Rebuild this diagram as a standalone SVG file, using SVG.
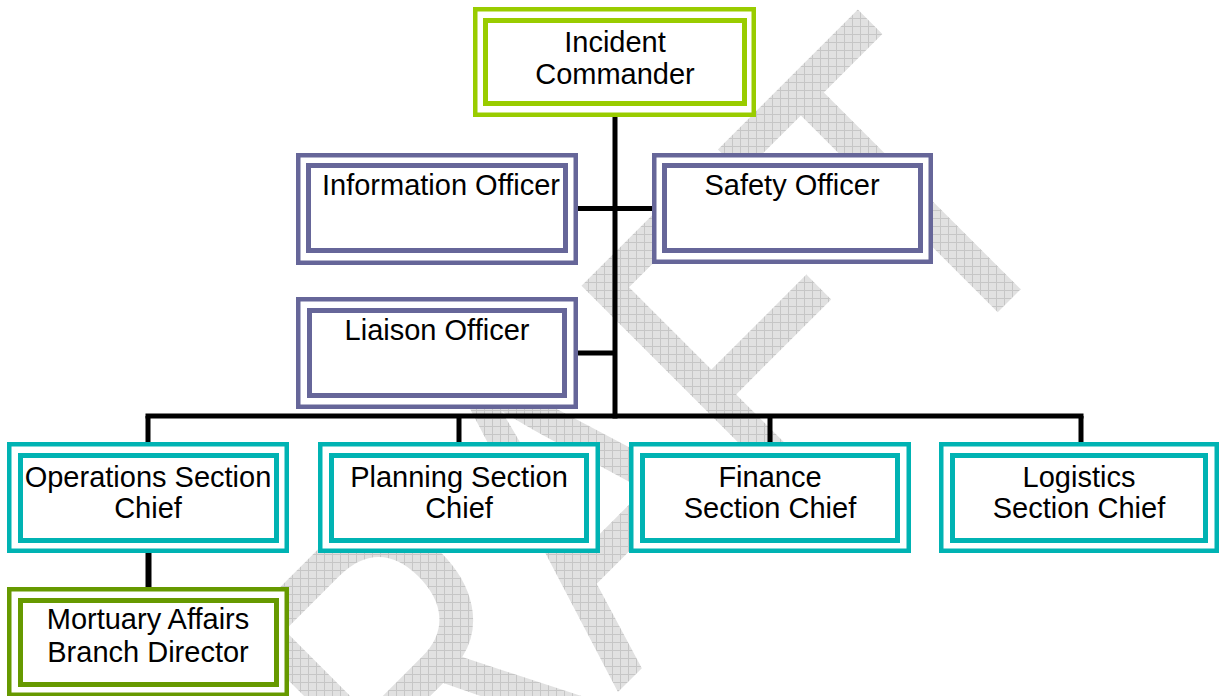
<svg xmlns="http://www.w3.org/2000/svg" width="1220" height="696" viewBox="0 0 1220 696">
<defs>
<style>
.wm{font-family:"Liberation Sans",Arial,sans-serif;font-size:350px;fill:url(#hatch)}
.lbl{font-family:"Liberation Sans",Arial,sans-serif;font-size:29px;fill:#000;text-anchor:middle}
.o{fill:#fff;stroke-width:4.5}
.i{fill:none;stroke-width:5}
.grn{stroke:#99cc00}
.pur{stroke:#666699}
.teal{stroke:#00b3b3}
.olive{stroke:#669900}
.conn{stroke:#000;stroke-width:5;fill:none}
</style>
<pattern id="hatch" width="8" height="8" patternUnits="userSpaceOnUse" patternTransform="scale(1,0.76923) rotate(45)">
<rect width="8" height="8" fill="#e1e1e1"/>
<path d="M0 0.5H8M0.5 0V8" stroke="#c6c6c6" stroke-width="1"/>
</pattern>
</defs>
<rect width="1220" height="696" fill="#fff"/>
<text class="wm" transform="translate(260,1050) rotate(-45) scale(1,1.3)" x="0" y="0">DRAFT</text>

<g id="connectors">
<line class="conn" x1="615" y1="117" x2="615" y2="418.5"/>
<line class="conn" x1="578" y1="208.5" x2="652" y2="208.5"/>
<line class="conn" x1="578" y1="353" x2="615" y2="353"/>
<line class="conn" x1="145.5" y1="416" x2="1083.5" y2="416"/>
<line class="conn" x1="148" y1="416" x2="148" y2="442"/>
<line class="conn" x1="459" y1="416" x2="459" y2="442"/>
<line class="conn" x1="770" y1="416" x2="770" y2="442"/>
<line class="conn" x1="1081" y1="416" x2="1081" y2="442"/>
<line class="conn" x1="148.5" y1="553" x2="148.5" y2="587" style="stroke-width:6"/>
</g>

<g id="incident-commander">
<rect class="o grn" x="475.25" y="9.25" width="278.5" height="105.5"/>
<rect class="i grn" x="485.5" y="20.5" width="259" height="83"/>
<text class="lbl" x="615" y="52">Incident</text>
<text class="lbl" x="615" y="84">Commander</text>
</g>

<g id="information-officer">
<rect class="o pur" x="298.25" y="155.25" width="277.5" height="107.5"/>
<rect class="i pur" x="308.5" y="165.5" width="257" height="85"/>
<text class="lbl" x="441" y="195">Information Officer</text>
</g>

<g id="safety-officer">
<rect class="o pur" x="654.25" y="155.25" width="276.5" height="106.5"/>
<rect class="i pur" x="664.5" y="165.5" width="256" height="85"/>
<text class="lbl" x="792" y="195">Safety Officer</text>
</g>

<g id="liaison-officer">
<rect class="o pur" x="298.25" y="299.25" width="277.5" height="107.5"/>
<rect class="i pur" x="309.5" y="310.5" width="255" height="85"/>
<text class="lbl" x="437" y="340">Liaison Officer</text>
</g>

<g id="operations-section-chief">
<rect class="o teal" x="9.25" y="444.25" width="277.5" height="106.5"/>
<rect class="i teal" x="20.5" y="455.5" width="256" height="85"/>
<text class="lbl" x="148" y="487">Operations Section</text>
<text class="lbl" x="148" y="518">Chief</text>
</g>

<g id="planning-section-chief">
<rect class="o teal" x="320.25" y="444.25" width="277.5" height="106.5"/>
<rect class="i teal" x="331.5" y="455.5" width="255" height="85"/>
<text class="lbl" x="459" y="487">Planning Section</text>
<text class="lbl" x="459" y="518">Chief</text>
</g>

<g id="finance-section-chief">
<rect class="o teal" x="631.25" y="444.25" width="277.5" height="106.5"/>
<rect class="i teal" x="642.5" y="455.5" width="255" height="85"/>
<text class="lbl" x="770" y="487">Finance</text>
<text class="lbl" x="770" y="518">Section Chief</text>
</g>

<g id="logistics-section-chief">
<rect class="o teal" x="941.25" y="444.25" width="275.5" height="106.5"/>
<rect class="i teal" x="952.5" y="455.5" width="253" height="85"/>
<text class="lbl" x="1079" y="487">Logistics</text>
<text class="lbl" x="1079" y="518">Section Chief</text>
</g>

<g id="mortuary-affairs-branch-director">
<rect class="o olive" x="9.25" y="589.25" width="277.5" height="105.5"/>
<rect class="i olive" x="20.5" y="600.5" width="256" height="84"/>
<text class="lbl" x="148" y="629">Mortuary Affairs</text>
<text class="lbl" x="148" y="662">Branch Director</text>
</g>
</svg>
